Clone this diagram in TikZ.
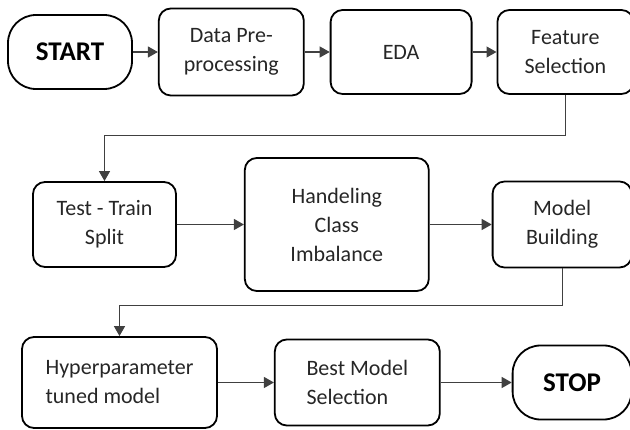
\documentclass[tikz,border=0pt]{standalone}
\usepackage{fontspec}
\setmainfont{Carlito}
\usetikzlibrary{arrows.meta,positioning}

\begin{document}
\begin{tikzpicture}[
        x=1pt,
        y=-1pt,
        stepBox/.style={
            draw=black,
            line width=1.8pt,
            rounded corners=12pt,
            align=center,
            text=black!85,
            font=\fontsize{22}{29}\selectfont,
            inner sep=4pt
        },
        terminalBox/.style={
            draw=black,
            line width=1.8pt,
            rounded corners=28pt,
            text=black,
            font=\fontsize{27}{32}\selectfont\bfseries,
            inner sep=4pt
        },
        flowArrow/.style={
            draw=black!75,
            line width=1.2pt,
            -{Triangle[length=10pt,width=11pt]}
        }
    ]

        \useasboundingbox (0,0) rectangle (630,430);

        % Row 1
        \node[
            terminalBox,
            minimum width=124pt,
            minimum height=74pt
        ] (startNode) at (70,52) {START};

        \node[
            stepBox,
            right=25pt of startNode,
            minimum width=145pt,
            minimum height=87pt
        ] (preprocessing) {
            Data Pre-\\
            processing
        };

        \node[
            stepBox,
            right=25pt of preprocessing,
            minimum width=141pt,
            minimum height=84pt
        ] (eda) {EDA};

        \node[
            stepBox,
            right=24pt of eda,
            minimum width=136pt,
            minimum height=84pt
        ] (featureSelection) {
            Feature\\
            Selection
        };

        % Row 2
        \node[
            stepBox,
            minimum width=143pt,
            minimum height=85pt
        ] (splitData) at (104.5,224.5) {
            Test - Train\\
            Split
        };

        \node[
            stepBox,
            right=67pt of splitData,
            minimum width=184pt,
            minimum height=133pt
        ] (classImbalance) {
            Handeling\\
            Class\\
            Imbalance
        };

        \node[
            stepBox,
            right=62pt of classImbalance,
            minimum width=139pt,
            minimum height=86pt
        ] (modelBuilding) {
            Model\\
            Building
        };

        % Row 3
        \node[
            stepBox,
            align=left,
            minimum width=195pt,
            minimum height=91pt
        ] (tunedModel) at (119.5,382.5) {
            Hyperparameter\\
            tuned model
        };

        \node[
            stepBox,
            align=left,
            right=56pt of tunedModel,
            minimum width=165pt,
            minimum height=86pt
        ] (modelSelection) {
            Best Model\\
            Selection
        };

        \node[
            terminalBox,
            right=71pt of modelSelection,
            minimum width=119pt,
            minimum height=74pt
        ] (stopNode) {STOP};

        % Connectors
        \draw[flowArrow] (startNode) -- (preprocessing);
        \draw[flowArrow] (preprocessing) -- (eda);
        \draw[flowArrow] (eda) -- (featureSelection);
        \draw[flowArrow] (featureSelection.south) -- ++(0,41) -| (splitData.north);
        \draw[flowArrow] (splitData) -- (classImbalance);
        \draw[flowArrow] (classImbalance) -- (modelBuilding);
        \draw[flowArrow] (modelBuilding.south) -- ++(0,37) -| (tunedModel.north);
        \draw[flowArrow] (tunedModel) -- (modelSelection);
        \draw[flowArrow] (modelSelection) -- (stopNode);

    \end{tikzpicture}
\end{document}
